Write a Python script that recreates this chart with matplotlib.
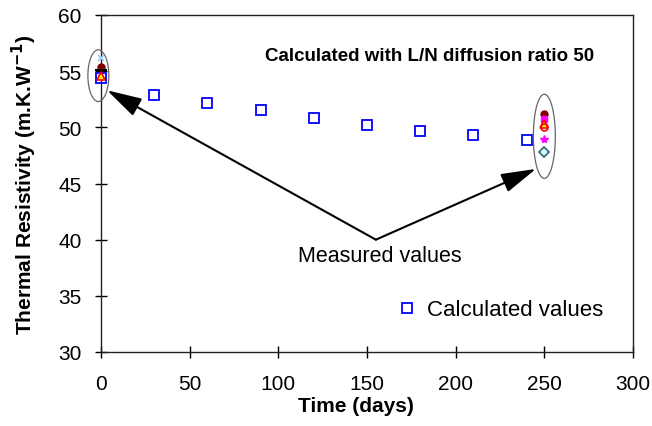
import matplotlib.pyplot as plt
from matplotlib.patches import Ellipse

plt.rcParams['font.family'] = ['Liberation Sans', 'DejaVu Sans']

# calculated resistivity (L/N diffusion ratio 50)
calc_days = [0, 30, 60, 90, 120, 150, 180, 210, 240]
calc_values = [54.4, 52.9, 52.15, 51.5, 50.85, 50.25, 49.7, 49.3, 48.85]

# measured samples: value at day 0 and day 250 (None = not measured)
meas_days = [0, 250]
meas_a = [56.2, None]    # light blue x
meas_b = [55.4, 51.2]    # dark red circle
meas_c = [55.1, None]    # black dash
meas_d = [54.6, 50.3]    # yellow triangle
meas_e = [None, 50.7]    # magenta square
meas_f = [None, 50.0]    # red circle
meas_g = [None, 48.95]   # magenta star
meas_h = [None, 47.8]    # cyan diamond

fig = plt.figure(figsize=(6.52, 4.27), dpi=100)
ax = fig.add_axes([101 / 652, 1 - 353 / 427, 532 / 652, 337 / 427])

ax.set_xlim(0, 300)
ax.set_ylim(30, 60)
ax.set_xticks([0, 50, 100, 150, 200, 250, 300])
ax.set_yticks([30, 35, 40, 45, 50, 55, 60])
ax.tick_params(direction='inout', length=8, width=1, labelsize=15)
ax.tick_params(axis='x', pad=12)
ax.tick_params(axis='y', pad=10)
for s in ax.spines.values():
    s.set_linewidth(1)
    s.set_color('#222222')


def pts(vals):
    xs = [d for d, v in zip(meas_days, vals) if v is not None]
    ys = [v for v in vals if v is not None]
    return xs, ys


styles = [
    (meas_a, dict(marker='x', color='#99ccff', ms=5, mew=1.2)),
    (meas_b, dict(marker='o', color='#800000', ms=5)),
    (meas_c, dict(marker='_', color='black', ms=9, mew=1.5)),
    (meas_e, dict(marker='s', color='#ff00ff', ms=4)),
    (meas_d, dict(marker='^', mfc='#ffff00', mec='#ff0000', ms=6, mew=1.2)),
    (meas_f, dict(marker='o', mfc='none', mec='#ff0000', ms=5, mew=1.2)),
    (meas_g, dict(marker='*', color='#ff00ff', ms=6)),
    (meas_h, dict(marker='D', mfc='#ccffff', mec='#336666', ms=5, mew=1.2)),
]
for vals, kw in styles:
    xs, ys = pts(vals)
    ax.plot(xs, ys, ls='none', clip_on=False, zorder=4, **kw)

ax.plot(calc_days, calc_values, ls='none', marker='s', ms=6.5, mfc='none',
        mec='#0000ff', mew=1.3, clip_on=False, zorder=3,
        label='Calculated values')

# circles grouping the measurements
for cx, cy, w, h in [(-1.5, 54.6, 11.8, 4.6), (250, 49.2, 12.4, 7.5)]:
    ax.add_patch(Ellipse((cx, cy), w, h, fill=False, ec='#666666',
                         lw=0.9, clip_on=False, zorder=5))

ax.text(157, 38.6, 'Measured values', ha='center', va='center', fontsize=15.5)
for tip in [(3.4, 53.3), (245.3, 46.3)]:
    ax.annotate('', xy=tip, xytext=(155, 40.0),
                arrowprops=dict(arrowstyle='-|>,head_length=1.8,head_width=0.5',
                                mutation_scale=12, color='black', lw=1.5,
                                shrinkA=0, shrinkB=0))

ax.text(185.5, 56.4, 'Calculated with L/N diffusion ratio 50', ha='center',
        va='center', fontsize=13.5, fontweight='bold')

ax.set_xlabel('Time (days)', fontsize=15, fontweight='bold')
ax.xaxis.set_label_coords(0.48, -0.13)
ax.set_ylabel('Thermal Resistivity (m.K.W$^{\\mathbf{-1}}$)', fontsize=15,
              fontweight='bold', labelpad=14)

ax.legend(loc='center left', bbox_to_anchor=(396 / 652, 1 - 311 / 427),
          bbox_transform=fig.transFigure, frameon=False, fontsize=16,
          handletextpad=0.4, borderpad=0, borderaxespad=0, handlelength=1.0)

fig.savefig('out.png', dpi=100)
